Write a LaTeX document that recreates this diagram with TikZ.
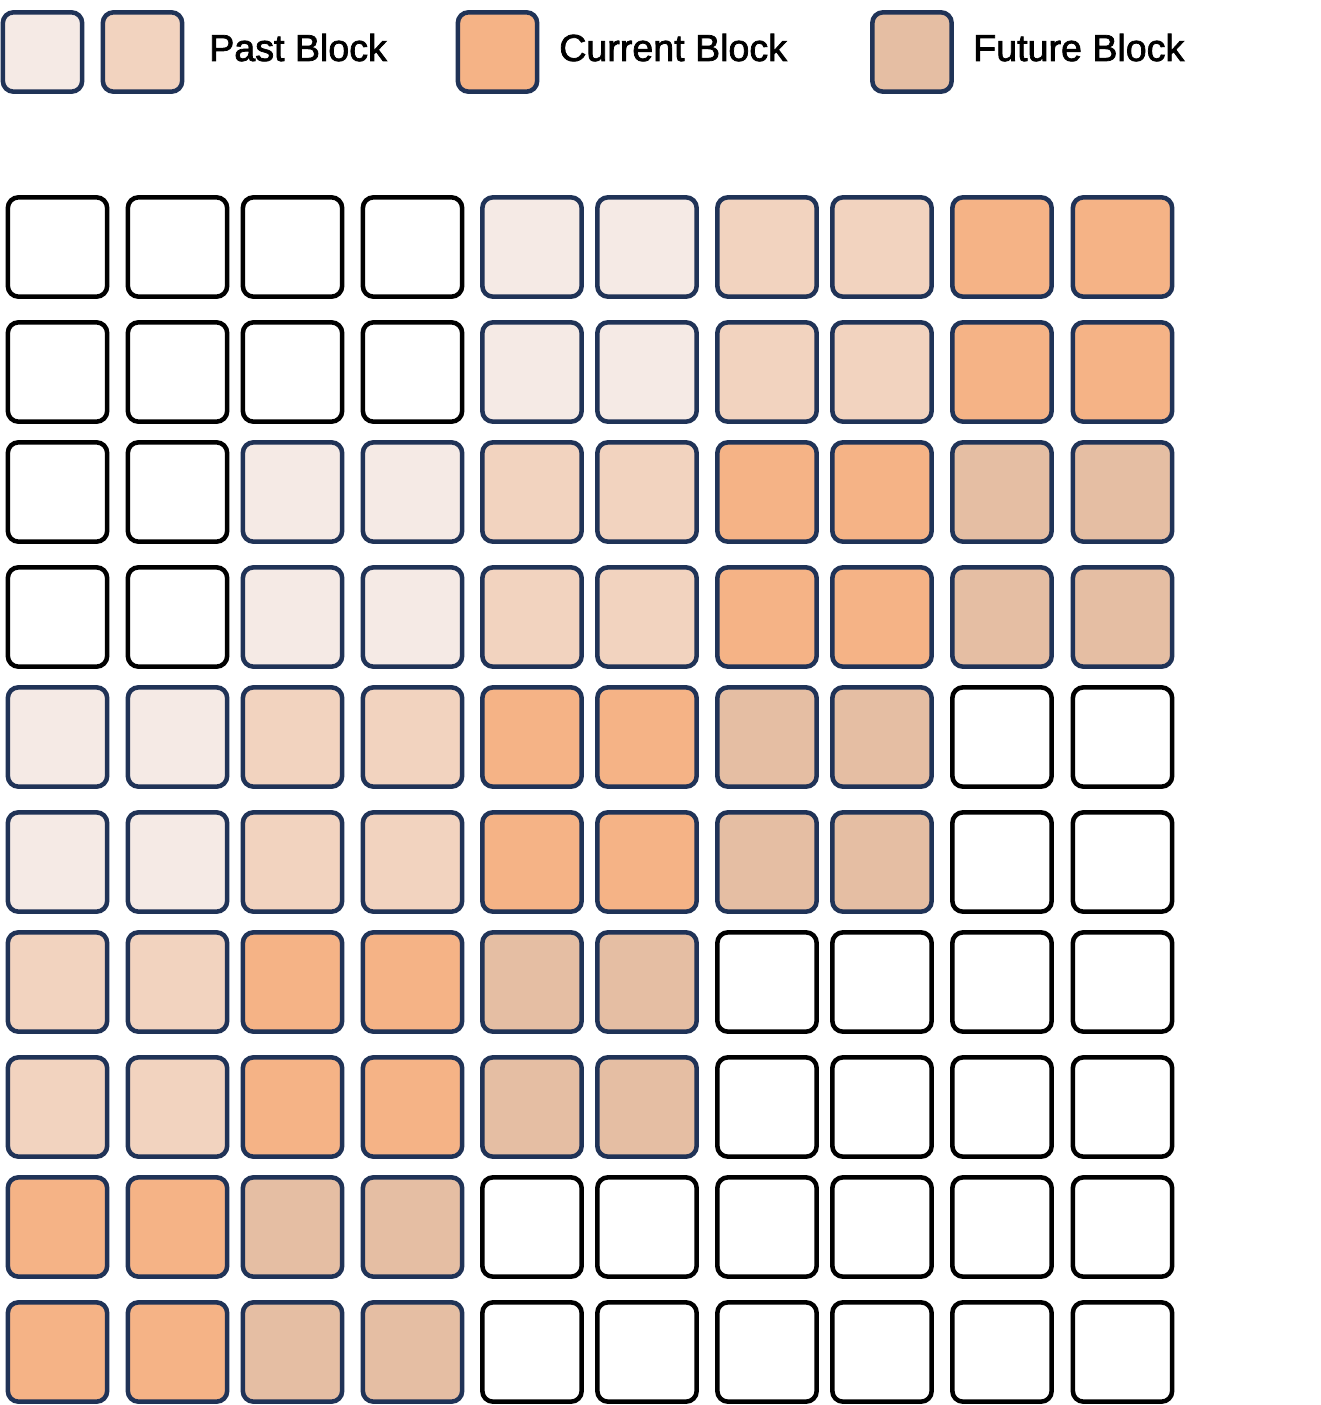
\documentclass[tikz,border=0pt]{standalone}
\usepackage{fontspec}
\newfontfamily\legendfont{Liberation Sans}[FakeBold=2]
\definecolor{edge}{HTML}{203357}
\definecolor{pastA}{HTML}{F5EAE5}
\definecolor{pastB}{HTML}{F2D3BF}
\definecolor{curr}{HTML}{F5B386}
\definecolor{futr}{HTML}{E5BEA3}
% style name of a block from its diagonal index
\newcommand{\kindof}[1]{\ifcase#1 blankbox\or blankbox\or pastAbox\or pastBbox\or currbox\or futrbox\else blankbox\fi}
\tikzset{
  block/.style={rectangle, rounded corners=8pt, line width=3.4pt, minimum size=74.5pt, inner sep=0pt},
  blankbox/.style={draw=black, fill=white},
  pastAbox/.style={draw=edge, fill=pastA},
  pastBbox/.style={draw=edge, fill=pastB},
  currbox/.style={draw=edge, fill=curr},
  futrbox/.style={draw=edge, fill=futr},
  keybox/.style={block, minimum size=59.5pt},
  keytext/.style={anchor=base west, inner sep=0pt, font=\legendfont\fontsize{28.2pt}{34pt}\selectfont}
}

\begin{document}
\begin{tikzpicture}[x=0.75pt,y=-0.75pt]
            \useasboundingbox (0,0) rectangle (1320,1405);
            % legend
            \node[keybox,pastAbox] (keyA) at (42.5,52) {};
            \node[keybox,pastBbox] (keyB) at (142.5,52) {};
            \node[keytext] (txtPast) at (209,61) {Past Block};
            \node[keybox,currbox] (keyC) at (497.5,52) {};
            \node[keytext] (txtCurr) at (559,61) {Current Block};
            \node[keybox,futrbox] (keyF) at (912,52) {};
            \node[keytext] (txtFutr) at (973,61) {Future Block};
            % blocks
            \foreach \y [count=\r] in {247,372,492,617,737,862,982,1107,1227,1352}
              \foreach \x [count=\c] in {57.5,177.5,292.5,412.5,532,647,767,882,1002,1122.5}
              {
                \pgfmathtruncatemacro\t{int((\c-1)/2)+int((\r-1)/2)}
                \node[block,style/.expanded=\kindof{\t}] (b\r-\c) at (\x,\y) {};
              }
\end{tikzpicture}
\end{document}
